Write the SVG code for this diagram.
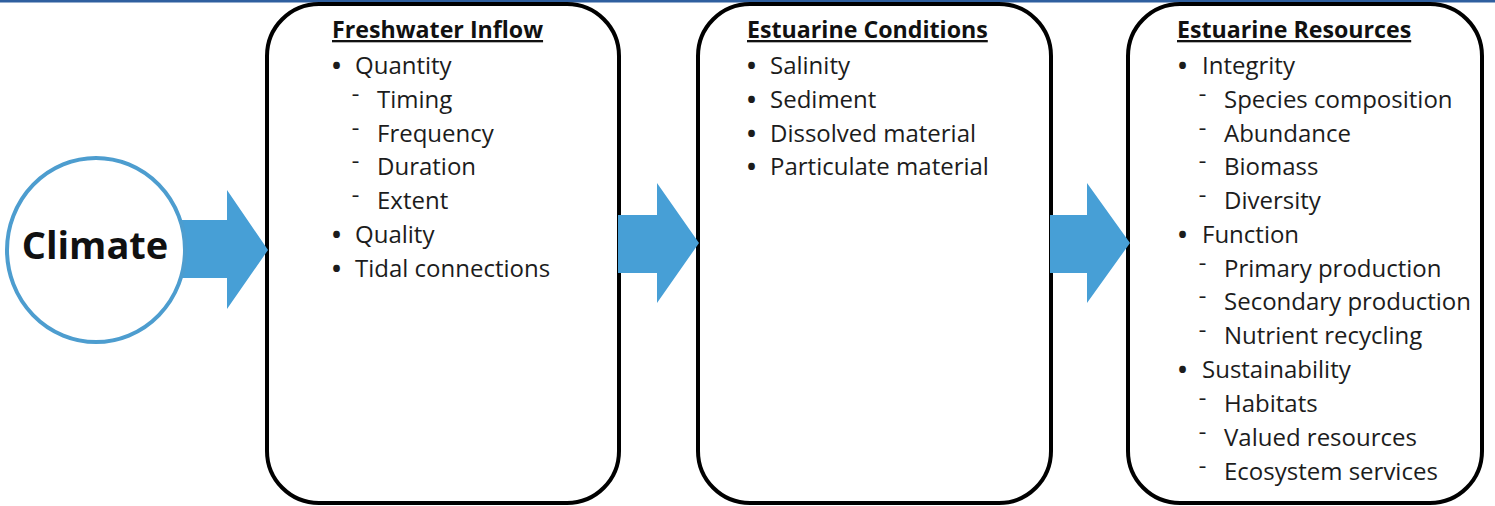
<svg xmlns="http://www.w3.org/2000/svg" width="1495" height="506" viewBox="0 0 1495 506">
<style>
  .box { fill: #ffffff; stroke: #000000; stroke-width: 4; }
  .arrow { fill: #479fd6; stroke: none; }
  .head { font-family: "Open Sans", "Liberation Sans", sans-serif; font-weight: bold; font-size: 23.2px; fill: #111111; text-decoration: underline; }
  .item { font-family: "Open Sans", "Liberation Sans", sans-serif; font-size: 24px; fill: #1c1c1c; }
  .b { font-weight: bold; }
  .d { font-size: 14px; font-weight: bold; }
  .climate { font-family: "Open Sans", "Liberation Sans", sans-serif; font-weight: bold; font-size: 38px; fill: #111111; text-anchor: middle; }
</style>
<rect x="0" y="0" width="1495" height="506" fill="#ffffff"/>
<rect x="0" y="0" width="1495" height="2.5" fill="#2f5f9f"/>

<g id="node-freshwater">
  <rect class="box" x="267" y="4" width="352" height="499" rx="52" ry="52"/>
  <text class="head" x="332" y="38">Freshwater Inflow</text>
  <text class="item" y="74"><tspan class="b" x="332">•</tspan><tspan x="355">Quantity</tspan></text>
  <text class="item" y="108"><tspan class="d" x="352" dy="-9">–</tspan><tspan x="377" dy="9">Timing</tspan></text>
  <text class="item" y="142"><tspan class="d" x="352" dy="-9">–</tspan><tspan x="377" dy="9">Frequency</tspan></text>
  <text class="item" y="175"><tspan class="d" x="352" dy="-9">–</tspan><tspan x="377" dy="9">Duration</tspan></text>
  <text class="item" y="209"><tspan class="d" x="352" dy="-9">–</tspan><tspan x="377" dy="9">Extent</tspan></text>
  <text class="item" y="243"><tspan class="b" x="332">•</tspan><tspan x="355">Quality</tspan></text>
  <text class="item" y="277"><tspan class="b" x="332">•</tspan><tspan x="355">Tidal connections</tspan></text>
</g>

<g id="node-conditions">
  <rect class="box" x="698" y="4" width="353" height="499" rx="52" ry="52"/>
  <text class="head" x="747" y="38">Estuarine Conditions</text>
  <text class="item" y="74"><tspan class="b" x="747">•</tspan><tspan x="770">Salinity</tspan></text>
  <text class="item" y="108"><tspan class="b" x="747">•</tspan><tspan x="770">Sediment</tspan></text>
  <text class="item" y="142"><tspan class="b" x="747">•</tspan><tspan x="770">Dissolved material</tspan></text>
  <text class="item" y="175"><tspan class="b" x="747">•</tspan><tspan x="770">Particulate material</tspan></text>
</g>

<g id="node-resources">
  <rect class="box" x="1128" y="4" width="354" height="499" rx="52" ry="52"/>
  <text class="head" x="1177" y="38">Estuarine Resources</text>
  <text class="item" y="74"><tspan class="b" x="1178">•</tspan><tspan x="1202">Integrity</tspan></text>
  <text class="item" y="108"><tspan class="d" x="1199" dy="-9">–</tspan><tspan x="1224" dy="9">Species composition</tspan></text>
  <text class="item" y="142"><tspan class="d" x="1199" dy="-9">–</tspan><tspan x="1224" dy="9">Abundance</tspan></text>
  <text class="item" y="175"><tspan class="d" x="1199" dy="-9">–</tspan><tspan x="1224" dy="9">Biomass</tspan></text>
  <text class="item" y="209"><tspan class="d" x="1199" dy="-9">–</tspan><tspan x="1224" dy="9">Diversity</tspan></text>
  <text class="item" y="243"><tspan class="b" x="1178">•</tspan><tspan x="1202">Function</tspan></text>
  <text class="item" y="277"><tspan class="d" x="1199" dy="-9">–</tspan><tspan x="1224" dy="9">Primary production</tspan></text>
  <text class="item" y="310"><tspan class="d" x="1199" dy="-9">–</tspan><tspan x="1224" dy="9">Secondary production</tspan></text>
  <text class="item" y="344"><tspan class="d" x="1199" dy="-9">–</tspan><tspan x="1224" dy="9">Nutrient recycling</tspan></text>
  <text class="item" y="378"><tspan class="b" x="1178">•</tspan><tspan x="1202">Sustainability</tspan></text>
  <text class="item" y="412"><tspan class="d" x="1199" dy="-9">–</tspan><tspan x="1224" dy="9">Habitats</tspan></text>
  <text class="item" y="446"><tspan class="d" x="1199" dy="-9">–</tspan><tspan x="1224" dy="9">Valued resources</tspan></text>
  <text class="item" y="480"><tspan class="d" x="1199" dy="-9">–</tspan><tspan x="1224" dy="9">Ecosystem services</tspan></text>
</g>

<g id="connectors">
  <polygon class="arrow" points="150,220 227,220 227,190 268,250 227,309 227,278 150,278"/>
  <polygon class="arrow" points="618,215 657,215 657,183 699,243 657,303 657,273 618,273"/>
  <polygon class="arrow" points="1050,215 1087,215 1087,183 1130,243 1087,303 1087,273 1050,273"/>
</g>

<g id="node-climate">
  <ellipse cx="96" cy="250" rx="89" ry="92" fill="#ffffff" stroke="#4d9dcf" stroke-width="4"/>
  <text class="climate" x="95" y="259">Climate</text>
</g>
</svg>
